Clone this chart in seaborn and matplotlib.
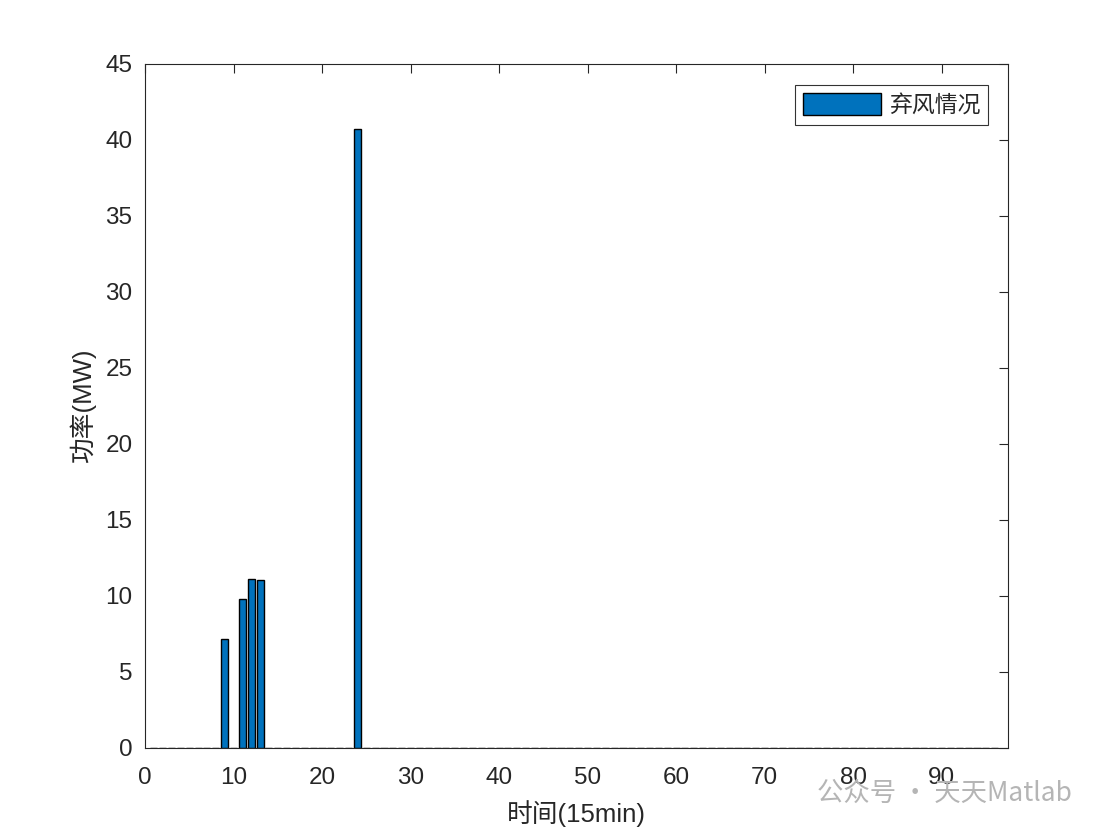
import numpy as np
import pandas as pd
import matplotlib
matplotlib.use("Agg")
import matplotlib.pyplot as plt
import seaborn as sns

# Data: curtailed wind power per 15-min interval (1..96)
time_idx = list(range(1, 97))
nonzero_idx = [9, 11, 12, 13, 24]
nonzero_val = [7.2, 9.8, 11.12, 11.05, 40.7]
power = [0.0] * 96
for i, v in zip(nonzero_idx, nonzero_val):
    power[i - 1] = v

series_name = "弃风情况"
x_label = "时间(15min)"
y_label = "功率(MW)"
x_ticks = [0, 10, 20, 30, 40, 50, 60, 70, 80, 90]
y_ticks = [0, 5, 10, 15, 20, 25, 30, 35, 40, 45]

sns.set_theme(style="white")
fam = ['Liberation Sans', 'Noto Sans CJK SC']
plt.rcParams['font.family'] = fam

df = pd.DataFrame({"t": time_idx, "p": power, "s": series_name})

fig = plt.figure(figsize=(11.1, 8.36), dpi=100)
ax = fig.add_axes([145/1110, 1-748/836, (1008-145)/1110, (748-64)/836])

sns.barplot(data=df, x="t", y="p", hue="s", native_scale=True, width=0.8,
            palette=["#0072BD"], saturation=1, edgecolor="black", linewidth=1.0,
            ax=ax, errorbar=None, dodge=False)

ax.set_xlim(0, 97.5)
ax.set_ylim(0, 45)
ax.set_xticks(x_ticks)
ax.set_yticks(y_ticks)
ax.tick_params(axis='both', which='both', direction='in', length=6.5, width=0.8,
               top=True, right=True, labelsize=17.5, colors='#262626')
ax.tick_params(axis='x', pad=14)
ax.tick_params(axis='y', pad=9)
for sp in ax.spines.values():
    sp.set_visible(True)
    sp.set_color('#262626')
    sp.set_linewidth(0.8)

ax.set_xlabel(x_label, fontsize=18.5, color='#262626', family=fam, labelpad=8)
ax.set_ylabel(y_label, fontsize=18.5, color='#262626', family=fam, labelpad=7)

leg = ax.legend(loc='upper right', frameon=True, fancybox=False,
                prop={'family': ['Noto Sans CJK SC'], 'size': 16.5},
                handlelength=3.4, handleheight=1.1, borderpad=0.35,
                handletextpad=0.35, borderaxespad=0,
                bbox_to_anchor=(0.977, 0.969))
leg.get_frame().set_edgecolor('black')
leg.get_frame().set_linewidth(0.8)

fig.text(1072/1110, 1-793/836, "公众号 · 天天Matlab", ha='right', va='center',
         fontsize=19, color='#b5b5b5',
         family=['Noto Sans CJK SC', 'DejaVu Sans'])

fig.savefig("out.png", dpi=100, facecolor='white')
